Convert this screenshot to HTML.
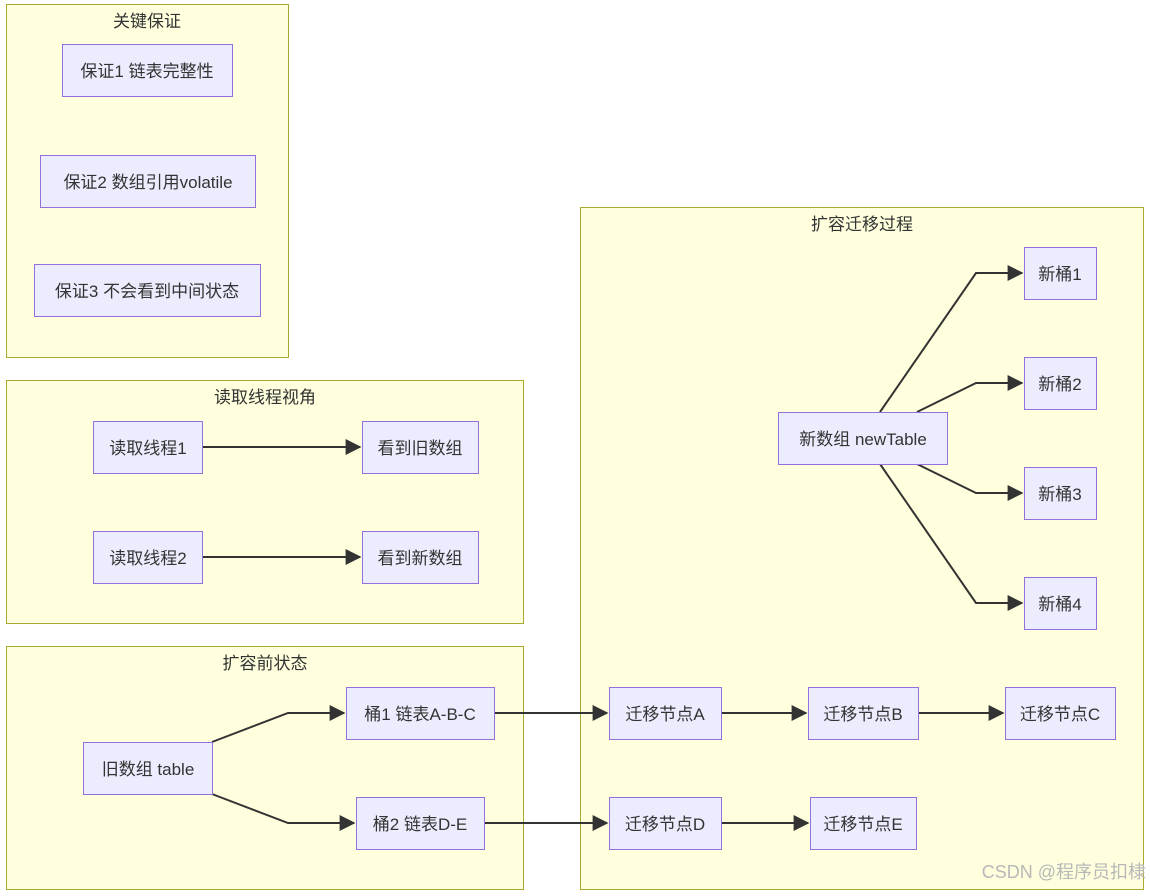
<!DOCTYPE html>
<html><head><meta charset="utf-8"><style>
body{margin:0;background:#fff;}
svg text{font-family:"Liberation Sans","Noto Sans CJK SC",sans-serif;fill:#333;}
</style></head><body>
<svg width="1150" height="891" xmlns="http://www.w3.org/2000/svg">
<defs><marker id="a" viewBox="0 0 10 10" refX="9" refY="5" markerWidth="8" markerHeight="8" orient="auto"><path d="M0,0L10,5L0,10z" fill="#333"/></marker></defs>
<g fill="#ffffde" stroke="#aaaa33" stroke-width="1">
<rect x="6.5" y="4.5" width="282" height="353"/>
<rect x="6.5" y="380.5" width="517" height="243"/>
<rect x="6.5" y="646.5" width="517" height="243"/>
<rect x="580.5" y="207.5" width="563" height="682"/>
</g>
<g font-size="17" text-anchor="middle">
<text x="147" y="27">关键保证</text>
<text x="265" y="403">读取线程视角</text>
<text x="265" y="669">扩容前状态</text>
<text x="862" y="230">扩容迁移过程</text>
</g>
<g fill="none" stroke="#333" stroke-width="2" marker-end="url(#a)">
<line x1="202" y1="447" x2="360" y2="447"/>
<line x1="202" y1="557" x2="360" y2="557"/>
<polyline points="212,742 288,713 344,713"/>
<polyline points="212,794 288,823 354,823"/>
<line x1="494" y1="713" x2="607" y2="713"/>
<line x1="484" y1="823" x2="607" y2="823"/>
<line x1="721" y1="713" x2="806" y2="713"/>
<line x1="918" y1="713" x2="1003" y2="713"/>
<line x1="721" y1="823" x2="808" y2="823"/>
<polyline points="880,412 976,273 1022,273"/>
<polyline points="917,412 976,383 1022,383"/>
<polyline points="917,464 976,493 1022,493"/>
<polyline points="880,464 976,603 1022,603"/>
</g>
<g fill="#ececff" stroke="#9370db" stroke-width="1">
<rect x="62.5" y="44.5" width="170" height="52"/>
<rect x="40.5" y="155.5" width="215" height="52"/>
<rect x="34.5" y="264.5" width="226" height="52"/>
<rect x="93.5" y="421.5" width="109" height="52"/>
<rect x="362.5" y="421.5" width="116" height="52"/>
<rect x="93.5" y="531.5" width="109" height="52"/>
<rect x="362.5" y="531.5" width="116" height="52"/>
<rect x="83.5" y="742.5" width="129" height="52"/>
<rect x="346.5" y="687.5" width="148" height="52"/>
<rect x="356.5" y="797.5" width="128" height="52"/>
<rect x="609.5" y="687.5" width="112" height="52"/>
<rect x="808.5" y="687.5" width="110" height="52"/>
<rect x="1005.5" y="687.5" width="110" height="52"/>
<rect x="609.5" y="797.5" width="112" height="52"/>
<rect x="810.5" y="797.5" width="106" height="52"/>
<rect x="778.5" y="412.5" width="169" height="52"/>
<rect x="1024.5" y="247.5" width="72" height="52"/>
<rect x="1024.5" y="357.5" width="72" height="52"/>
<rect x="1024.5" y="467.5" width="72" height="52"/>
<rect x="1024.5" y="577.5" width="72" height="52"/>
</g>
<g font-size="17" text-anchor="middle">
<text x="147" y="77">保证1 链表完整性</text>
<text x="148" y="188">保证2 数组引用volatile</text>
<text x="147" y="297">保证3 不会看到中间状态</text>
<text x="148" y="454">读取线程1</text>
<text x="420" y="454">看到旧数组</text>
<text x="148" y="564">读取线程2</text>
<text x="420" y="564">看到新数组</text>
<text x="148" y="775">旧数组 table</text>
<text x="420" y="720">桶1 链表A-B-C</text>
<text x="420" y="830">桶2 链表D-E</text>
<text x="665" y="720">迁移节点A</text>
<text x="863" y="720">迁移节点B</text>
<text x="1060" y="720">迁移节点C</text>
<text x="665" y="830">迁移节点D</text>
<text x="863" y="830">迁移节点E</text>
<text x="863" y="445">新数组 newTable</text>
<text x="1060" y="280">新桶1</text>
<text x="1060" y="390">新桶2</text>
<text x="1060" y="500">新桶3</text>
<text x="1060" y="610">新桶4</text>
</g>
<text x="1146" y="878" font-size="18" text-anchor="end" style="fill:#b8b8b8">CSDN @程序员扣棣</text>
</svg>
</body></html>
